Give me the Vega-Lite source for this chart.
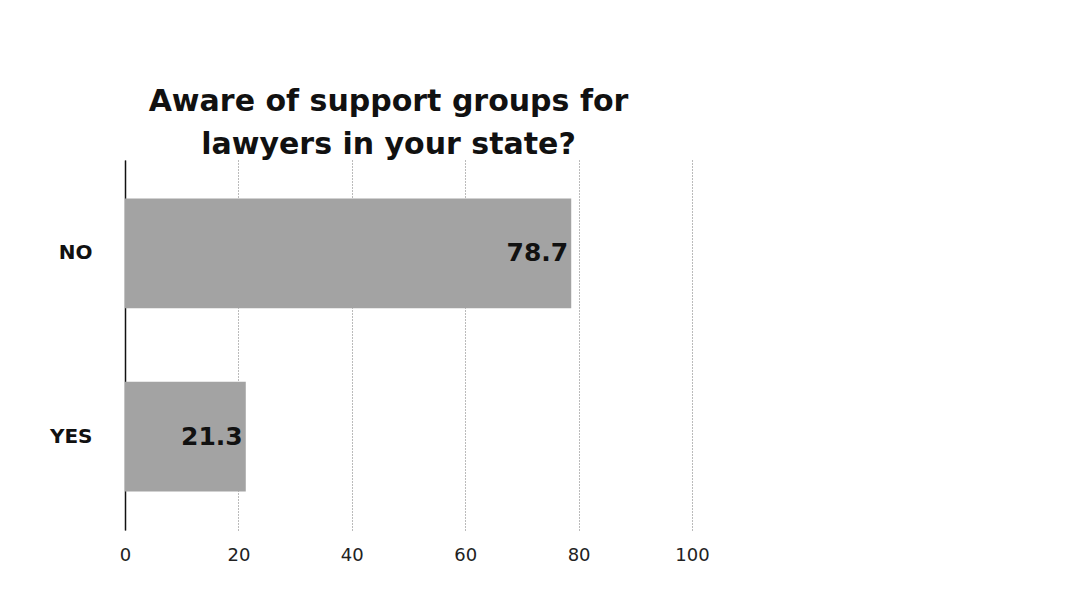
{
  "$schema": "https://vega.github.io/schema/vega-lite/v6.json",
  "width": 567,
  "height": 370,
  "autosize": {"type": "none"},
  "padding": {"left": 125, "top": 160, "right": 397, "bottom": 85},
  "background": "white",
  "title": {
    "text": ["Aware of support groups for", "lawyers in your state?"],
    "anchor": "middle",
    "dx": -20,
    "offset": 0,
    "font": "DejaVu Sans",
    "fontSize": 30,
    "fontWeight": "bold",
    "lineHeight": 43,
    "color": "#111"
  },
  "data": {
    "values": [
      {"answer": "NO", "pct": 78.7},
      {"answer": "YES", "pct": 21.3}
    ]
  },
  "encoding": {
    "y": {
      "field": "answer",
      "type": "nominal",
      "sort": ["NO", "YES"],
      "title": null,
      "scale": {"paddingInner": 0.4, "paddingOuter": 0.21},
      "axis": {
        "domain": true,
        "domainColor": "#111",
        "domainWidth": 1.5,
        "ticks": false,
        "labelFont": "DejaVu Sans",
        "labelFontSize": 20,
        "labelFontWeight": "bold",
        "labelColor": "#111",
        "labelPadding": 33,
        "grid": false
      }
    },
    "x": {
      "field": "pct",
      "type": "quantitative",
      "title": null,
      "scale": {"domain": [0, 100]},
      "axis": {
        "values": [0, 20, 40, 60, 80, 100],
        "domain": false,
        "ticks": false,
        "labelFlush": false,
        "labelFont": "DejaVu Sans",
        "labelFontSize": 18,
        "labelColor": "#222",
        "labelPadding": 16,
        "grid": true,
        "gridColor": "#777",
        "gridDash": [1, 2],
        "gridWidth": 1
      }
    }
  },
  "layer": [
    {"mark": {"type": "bar", "color": "#a3a3a3"}},
    {
      "mark": {
        "type": "text",
        "align": "right",
        "dx": -3,
        "font": "DejaVu Sans",
        "fontSize": 25,
        "fontWeight": "bold",
        "color": "#111"
      },
      "encoding": {"text": {"field": "pct", "type": "quantitative", "format": ".1f"}}
    }
  ],
  "config": {"view": {"stroke": null}}
}
